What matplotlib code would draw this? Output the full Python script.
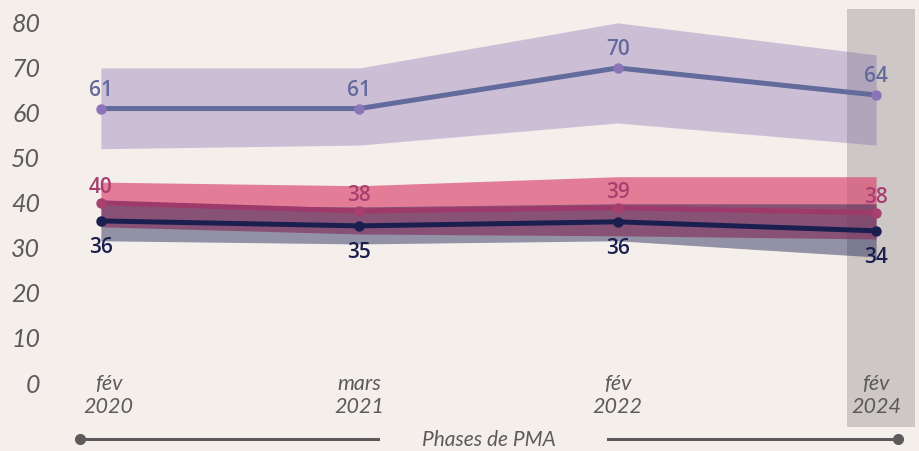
import matplotlib.pyplot as plt
from matplotlib.lines import Line2D

# Data
phases = ['fév\n2020', 'mars\n2021', 'fév\n2022', 'fév\n2024']
purple = [60.6, 60.6, 69.6, 63.6]
purple_lo = [51.7, 52.5, 57.4, 52.5]
purple_hi = [69.6, 69.6, 79.6, 72.5]
purple_lbl = ['61', '61', '70', '64']
pink = [39.7, 37.9, 38.6, 37.5]
pink_lo = [34.4, 32.8, 32.4, 31.7]
pink_hi = [44.3, 43.5, 45.5, 45.5]
pink_lbl = ['40', '38', '39', '38']
navy = [35.7, 34.6, 35.5, 33.5]
navy_lo = [31.3, 30.6, 31.3, 27.7]
navy_hi = [39.3, 38.8, 39.5, 39.5]
navy_lbl = ['36', '35', '36', '34']
yticks = [0, 10, 20, 30, 40, 50, 60, 70, 80]

bg = '#f5efec'
tick_col = '#5c5a5a'
x = list(range(len(phases)))

fig = plt.figure(figsize=(9.19, 4.52), dpi=100, facecolor=bg)
ax = fig.add_axes([50 / 919, 0, 869 / 919, 1])
ax.set_facecolor(bg)
ax.set_xlim(-0.197, 3.166)
ax.set_ylim(-15.29, 84.88)

# highlighted last phase
ax.axvspan(2.888, 3.151, ymin=0.053, ymax=0.978, color='#cdc8c5', lw=0, zorder=0)

# bands
ax.fill_between(x, purple_lo, purple_hi, color='#785ca7', alpha=0.32, lw=0, zorder=1)
ax.fill_between(x, pink_lo, pink_hi, color='#d9466f', alpha=0.68, lw=0, zorder=2)
ax.fill_between(x, navy_lo, navy_hi, color='#1b1f4f', alpha=0.45, lw=0, zorder=3)

# lines
ax.plot(x, purple, color='#636a9c', lw=3.6, zorder=4,
        marker='o', ms=6.5, mfc='#8c74b8', mec='#8c74b8')
ax.plot(x, pink, color='#9e3a6a', lw=3.6, zorder=5,
        marker='o', ms=6.5, mfc='#a8406f', mec='#a8406f')
ax.plot(x, navy, color='#1b1f4f', lw=3.6, zorder=6,
        marker='o', ms=6.5, mfc='#1b1f4f', mec='#1b1f4f')

# value labels
lab = dict(fontsize=15, fontweight='semibold', family='Open Sans',
           textcoords='offset points', ha='center', va='center', zorder=7)
for i in x:
    ax.annotate(purple_lbl[i], (i, purple[i]), xytext=(0, 14), color='#636a9c', **lab)
    ax.annotate(pink_lbl[i], (i, pink[i]), xytext=(0, 12), color='#a8406f', **lab)
    ax.annotate(navy_lbl[i], (i, navy[i]), xytext=(0, -18.5), color='#1b1f4f', **lab)

# phase labels
for i, p in enumerate(phases):
    ax.text(i + (0.03 if i == 0 else 0), -2.8, p, ha='center', va='center',
            fontsize=15.5, style='italic', family='Lato', color=tick_col,
            linespacing=1.15)

# y axis
ax.set_yticks(yticks)
ax.set_yticklabels([str(t) for t in yticks], fontsize=18, style='italic',
                   family='Lato', color=tick_col)
ax.tick_params(axis='y', length=0, pad=7)
ax.set_xticks([])
for s in ax.spines.values():
    s.set_visible(False)

# bottom axis caption with arrows
yb = 1 - 440 / 452
fig.add_artist(Line2D([80 / 919, 378 / 919], [yb, yb], color=tick_col, lw=2.2))
fig.add_artist(Line2D([608 / 919, 898 / 919], [yb, yb], color=tick_col, lw=2.2))
fig.add_artist(Line2D([80 / 919], [yb], marker='o', ms=7, color=tick_col))
fig.add_artist(Line2D([898 / 919], [yb], marker='o', ms=7, color=tick_col))
fig.text(489 / 919, yb, 'Phases de PMA', ha='center', va='center', fontsize=15,
         style='italic', family='Lato', color=tick_col)

fig.savefig('out.png', dpi=100, facecolor=bg)
